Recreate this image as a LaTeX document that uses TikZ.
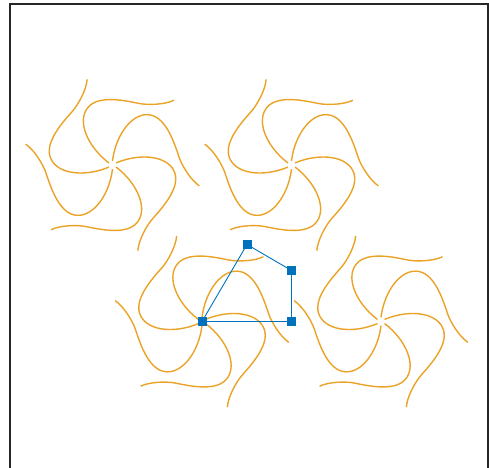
\documentclass[tikz,border=0pt]{standalone}
\definecolor{tileorange}{RGB}{234,163,38}
\definecolor{kiteblue}{RGB}{0,114,189}
\tikzset{
  arm/.style={tileorange,line width=1.4pt},
  kite/.style={kiteblue,line width=0.9pt},
  vertex/.style={fill=kiteblue,minimum size=9pt,inner sep=0pt},
}
\begin{document}
\begin{tikzpicture}[x=1pt,y=1pt]
  \useasboundingbox (0,0) rectangle (489,467);
  \clip (0,0) rectangle (489,467);
  %% frame
  \draw[line width=2.2pt,black!85] (10.2,-5) -- (10.2,462.8) -- (487.8,462.8) -- (487.8,-5);
  %% pinwheels, six arms each
  \foreach \cx/\cy in {112.5/302,291.5/302,202/145.5,381/145.5}{
    \foreach \k in {0,...,5}{
      \draw[arm,shift={(\cx,\cy)},rotate=46.5+60*\k]
        (-1,4) .. controls (-4,32) and (8,57.5) .. (26,57.5)
        .. controls (42,57.5) and (55.6,34.9) .. (63,23)
        .. controls (67.8,15.4) and (79.9,3.4) .. (89.3,0);
    }
  }
  %% kite
  \node[vertex] (o) at (202,145.5) {};
  \node[vertex] (a) at (291.5,145.5) {};
  \node[vertex] (c) at (291.5,196.5) {};
  \node[vertex] (b) at (247,222.5) {};
  \draw[kite] (o.center) -- (a.center) -- (c.center) -- (b.center) -- cycle;
\end{tikzpicture}
\end{document}
